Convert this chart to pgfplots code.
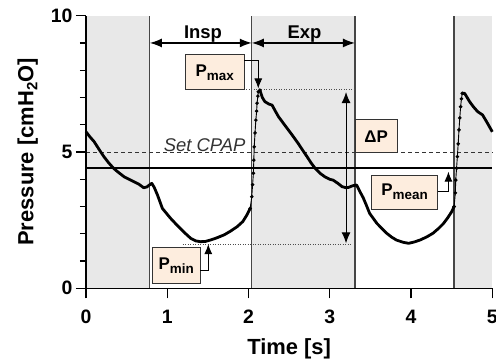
\documentclass[border=0pt]{standalone}
\usepackage{fontspec}
\setmainfont{Liberation Sans}
\usepackage{pgfplots}
\pgfplotsset{compat=1.18}
\usetikzlibrary{arrows.meta}
\definecolor{shade}{RGB}{232,232,232}
\definecolor{boxfill}{RGB}{253,237,222}
\definecolor{vline}{RGB}{70,70,70}
\newcommand\fs[1]{\fontsize{#1}{#1}\selectfont}
\begin{document}
\begin{tikzpicture}[x=1bp,y=1bp]
\begin{axis}[
  at={(0,0)}, anchor=south west,
  scale only axis, width=406.3bp, height=272.6bp,
  xmin=0, xmax=5, ymin=0, ymax=10,
  axis x line*=bottom, axis y line*=left,
  axis line style={line width=1.4bp, black},
  xtick={0,1,2,3,4,5}, ytick={0,5,10},
  minor ytick={1,2,3,4,6,7,8,9},
  tick align=outside,
  major tick length=10bp, minor tick length=6bp,
  tick style={black, line width=1.4bp},
  ticklabel style={font=\fs{19.5}\bfseries},
  xticklabel style={yshift=-8bp},
  /pgf/number format/assume math mode=true,
  xlabel={Time [s]},
  ylabel={Pressure [cmH\raisebox{-4bp}{\fs{15}2}O]},
  label style={font=\fs{22}\bfseries},
  xlabel style={yshift=-8bp},
  ylabel shift=6bp,
  clip=false,
  axis on top,
]
% shaded phases
\addplot[draw=none, fill=shade] coordinates {(0,0)(0.785,0)(0.785,10)(0,10)} -- cycle;
\addplot[draw=none, fill=shade] coordinates {(2.04,0)(3.31,0)(3.31,10)(2.04,10)} -- cycle;
\addplot[draw=none, fill=shade] coordinates {(4.53,0)(5,0)(5,10)(4.53,10)} -- cycle;
% phase boundaries
\addplot[vline, line width=1.3bp] coordinates {(0.785,0)(0.785,10)};
\addplot[vline, line width=1.3bp] coordinates {(2.04,0)(2.04,10)};
\addplot[vline, line width=1.3bp] coordinates {(3.31,0)(3.31,10)};
\addplot[vline, line width=1.3bp] coordinates {(4.53,0)(4.53,10)};
% reference lines
\addplot[black!80, line width=1bp, dash pattern=on 4bp off 3bp] coordinates {(0,5)(5,5)};
\addplot[black, line width=2bp] coordinates {(0,4.4)(5,4.4)};
\addplot[black!70, line width=0.9bp, dash pattern=on 1bp off 1.5bp] coordinates {(1.88,7.31)(3.31,7.31)};
\addplot[black!70, line width=0.9bp, dash pattern=on 1bp off 1.5bp] coordinates {(1.19,1.62)(3.26,1.62)};
% pressure curve
\addplot[black, line width=2.8bp, line join=round] coordinates {
(0,5.74) (0.05,5.55) (0.1,5.38) (0.16,5.1) (0.22,4.83) (0.28,4.6) (0.34,4.40) (0.40,4.25) (0.47,4.09) (0.53,4.0) (0.59,3.91) (0.65,3.82) (0.71,3.69) (0.75,3.72) (0.78,3.79) (0.81,3.85) (0.84,3.7) (0.88,3.42) (0.94,2.93) (1.04,2.57) (1.10,2.38) (1.16,2.2) (1.22,2.02) (1.29,1.83) (1.35,1.74) (1.41,1.71) (1.47,1.72) (1.53,1.77) (1.60,1.84) (1.70,1.96) (1.78,2.1) (1.86,2.26) (1.93,2.45) (1.98,2.69) (2.02,2.93)};
\addplot[black, line width=0.9bp, mark=*, mark size=1.3bp] coordinates {
(2.02,2.93) (2.04,3.36) (2.05,3.8) (2.06,4.22) (2.065,4.7) (2.07,5.19) (2.08,5.7) (2.09,6.17) (2.10,6.5) (2.105,6.79) (2.115,7.05) (2.12,7.21) (2.14,7.27)};
\addplot[black, line width=2.8bp, line join=round] coordinates {
(2.14,7.27) (2.17,7.0) (2.2,6.85) (2.25,6.76) (2.29,6.72) (2.33,6.5) (2.37,6.29) (2.43,6.05) (2.49,5.81) (2.55,5.57) (2.61,5.32) (2.67,5.05) (2.72,4.83) (2.77,4.6) (2.82,4.40) (2.88,4.22) (2.94,4.09) (3.0,4.0) (3.04,3.97) (3.1,3.85) (3.15,3.73) (3.2,3.69) (3.23,3.70) (3.28,3.76) (3.33,3.79) (3.37,3.55) (3.41,3.33) (3.45,3.05) (3.49,2.75) (3.58,2.38) (3.64,2.2) (3.70,2.02) (3.76,1.88) (3.82,1.77) (3.9,1.69) (3.97,1.65) (4.04,1.70) (4.11,1.77) (4.19,1.88) (4.27,2.02) (4.34,2.2) (4.40,2.38) (4.45,2.58) (4.50,2.81) (4.53,3.0)};
\addplot[black, line width=0.9bp, mark=*, mark size=1.3bp] coordinates {
(4.53,3.0) (4.545,3.5) (4.55,3.97) (4.56,4.4) (4.57,4.83) (4.58,5.3) (4.59,5.81) (4.60,6.25) (4.61,6.66) (4.62,6.95) (4.63,7.15)};
\addplot[black, line width=2.8bp, line join=round] coordinates {
(4.63,7.15) (4.66,7.15) (4.69,7.0) (4.72,6.85) (4.77,6.65) (4.82,6.48) (4.88,6.36) (4.93,6.11) (4.97,5.9) (5.0,5.74)};
% phase arrows
\draw[{Latex[length=12bp,width=9bp]}-{Latex[length=12bp,width=9bp]}, line width=1.5bp] (axis cs:0.785,9) -- (axis cs:2.04,9);
\draw[{Latex[length=12bp,width=9bp]}-{Latex[length=12bp,width=9bp]}, line width=1.5bp] (axis cs:2.04,9) -- (axis cs:3.31,9);
\node[anchor=base, font=\fs{18.5}\bfseries] at (axis cs:1.44,9.15) {Insp};
\node[anchor=base, font=\fs{18.5}\bfseries] at (axis cs:2.69,9.15) {Exp};
\node[anchor=base, font=\fs{18.5}\itshape, text=black!80] at (axis cs:1.46,5.03) {Set CPAP};
% delta P
\draw[{Latex[length=11bp,width=9bp]}-{Latex[length=11bp,width=9bp]}, line width=1bp] (axis cs:3.2,1.65) -- (axis cs:3.2,7.2);
\node[draw=black!80, fill=boxfill, line width=0.9bp, minimum width=42bp, minimum height=33bp, inner sep=0pt, font=\fs{17}\bfseries] at (axis cs:3.57,5.58) {ΔP};
% boxes
\node[draw=black!80, fill=boxfill, line width=0.9bp, minimum width=59bp, minimum height=35bp, inner sep=0pt, font=\fs{17}\bfseries] at (axis cs:1.583,7.92) {P\raisebox{-4bp}{\fs{13.5}max}};
\draw[line width=0.9bp, -{Latex[length=10bp,width=8bp]}] (axis cs:1.946,8.37) -| (axis cs:2.12,7.33);
\node[draw=black!80, fill=boxfill, line width=0.9bp, minimum width=48bp, minimum height=35.6bp, inner sep=0pt, font=\fs{17}\bfseries] at (axis cs:1.11,0.84) {P\raisebox{-4bp}{\fs{13.5}min}};
\draw[line width=0.9bp, -{Latex[length=10bp,width=8bp]}] (axis cs:1.405,0.67) -| (axis cs:1.505,1.62);
\node[draw=black!80, fill=boxfill, line width=0.9bp, minimum width=66bp, minimum height=34.3bp, inner sep=0pt, font=\fs{17}\bfseries] at (axis cs:3.92,3.525) {P\raisebox{-4bp}{\fs{13.5}mean}};
\draw[line width=0.9bp, -{Latex[length=10bp,width=8bp]}] (axis cs:4.326,3.545) -| (axis cs:4.46,4.28);
\end{axis}
\pgfresetboundingbox
\path (-86,-69.7) rectangle (410,288.3);
\end{tikzpicture}
\end{document}
